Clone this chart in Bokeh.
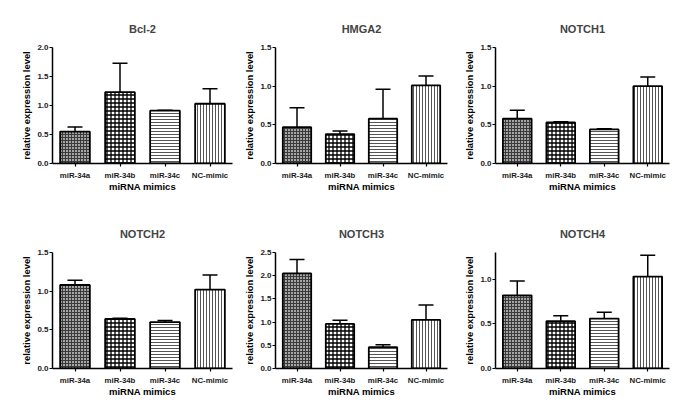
from bokeh.plotting import figure
from bokeh.layouts import column, row
from bokeh.models import (Range1d, FactorRange, FixedTicker, Whisker, TeeHead,
                          ColumnDataSource, PrintfTickFormatter)
from bokeh.embed import file_html
from bokeh.resources import INLINE

CATEGORIES = ["miR-34a", "miR-34b", "miR-34c", "NC-mimic"]
GENES = ["Bcl-2", "HMGA2", "NOTCH1", "NOTCH2", "NOTCH3", "NOTCH4"]

BCL2_MEAN = [0.55, 1.23, 0.91, 1.03]
BCL2_UPPER = [0.63, 1.73, 0.92, 1.29]
HMGA2_MEAN = [0.47, 0.38, 0.58, 1.01]
HMGA2_UPPER = [0.72, 0.42, 0.96, 1.13]
NOTCH1_MEAN = [0.58, 0.53, 0.44, 1.00]
NOTCH1_UPPER = [0.69, 0.54, 0.45, 1.12]
NOTCH2_MEAN = [1.08, 0.64, 0.60, 1.02]
NOTCH2_UPPER = [1.14, 0.65, 0.62, 1.21]
NOTCH3_MEAN = [2.05, 0.96, 0.46, 1.05]
NOTCH3_UPPER = [2.35, 1.04, 0.51, 1.37]
NOTCH4_MEAN = [0.82, 0.53, 0.56, 1.03]
NOTCH4_UPPER = [0.98, 0.59, 0.63, 1.27]

MEANS = [BCL2_MEAN, HMGA2_MEAN, NOTCH1_MEAN, NOTCH2_MEAN, NOTCH3_MEAN, NOTCH4_MEAN]
UPPERS = [BCL2_UPPER, HMGA2_UPPER, NOTCH1_UPPER, NOTCH2_UPPER, NOTCH3_UPPER, NOTCH4_UPPER]
Y_MAX = [2.0, 1.5, 1.5, 1.5, 2.5, 1.3]
Y_TICKS = [[0, 0.5, 1.0, 1.5, 2.0], [0, 0.5, 1.0, 1.5], [0, 0.5, 1.0, 1.5],
           [0, 0.5, 1.0, 1.5], [0, 0.5, 1.0, 1.5, 2.0, 2.5], [0, 0.5, 1.0]]
Y_LABEL = "relative expression level"
X_LABEL = "miRNA mimics"

FONT = "Liberation Sans"

STYLES = [
    dict(fill_color="#a6a6a6", hatch_pattern="cross", hatch_color="#3a3a3a", hatch_scale=3, hatch_weight=1),
    dict(fill_color="white", hatch_pattern="cross", hatch_color="black", hatch_scale=4, hatch_weight=1.3),
    dict(fill_color="white", hatch_pattern="horizontal_line", hatch_color="#555555", hatch_scale=3, hatch_weight=1),
    dict(fill_color="white", hatch_pattern="vertical_line", hatch_color="#555555", hatch_scale=3, hatch_weight=1),
]

COL_W = [234, 215, 222]
COL_LEFT = [52, 41, 46]
ROW_H = [208, 191]
ROW_TOP = [47, 44]
FRAME_H = [116, 117]


def make_panel(i):
    r, c = divmod(i, 3)
    p = figure(x_range=FactorRange(*CATEGORIES), y_range=Range1d(0, Y_MAX[i]),
               width=COL_W[c], height=ROW_H[r],
               min_border_left=COL_LEFT[c], min_border_right=2,
               min_border_top=ROW_TOP[r], min_border_bottom=ROW_H[r] - ROW_TOP[r] - FRAME_H[r],
               toolbar_location=None, output_backend="svg", title=GENES[i])
    for k, cat in enumerate(CATEGORIES):
        p.vbar(x=[cat], top=[MEANS[i][k]], width=0.66, line_color="black", line_width=1.8,
               **STYLES[k])
    src = ColumnDataSource(dict(x=CATEGORIES, lower=MEANS[i], upper=UPPERS[i]))
    w = Whisker(base="x", lower="lower", upper="upper", source=src, dimension="height",
                line_width=1.5, line_color="black",
                upper_head=TeeHead(size=15, line_width=1.5, line_color="black"), lower_head=None)
    p.add_layout(w)

    p.grid.visible = False
    p.outline_line_color = None
    p.title.text_font = FONT
    p.title.text_font_size = "11px"
    p.title.text_font_style = "bold"
    p.title.align = "center"
    p.title.standoff = 25

    for ax in (p.xaxis[0], p.yaxis[0]):
        ax.axis_line_width = 1.5
        ax.axis_line_color = "black"
        ax.major_tick_line_width = 1.2
        ax.major_tick_in = 0
        ax.major_tick_out = 3
        ax.minor_tick_in = 0
        ax.minor_tick_out = 0
        ax.major_label_text_font = FONT
        ax.major_label_text_font_style = "bold"
        ax.major_label_text_color = "#1a1a1a"
        ax.axis_label_text_font = FONT
        ax.axis_label_text_font_style = "bold"
        ax.axis_label_text_color = "black"
    p.yaxis.ticker = FixedTicker(ticks=Y_TICKS[i])
    p.yaxis.formatter = PrintfTickFormatter(format="%.1f")
    p.yaxis.major_label_text_font_size = "8px"
    p.yaxis.major_label_standoff = 1
    p.yaxis.axis_label = Y_LABEL
    p.yaxis.axis_label_text_font_size = "9.4px"
    p.yaxis.axis_label_standoff = 2
    p.xaxis.major_label_text_font_size = "7.8px"
    p.xaxis.major_label_standoff = 4
    p.xaxis.axis_label = X_LABEL
    p.xaxis.axis_label_text_font_size = "9.5px"
    p.xaxis.axis_label_standoff = -2
    return p


panels = [make_panel(i) for i in range(6)]
layout = column(row(*panels[:3]), row(*panels[3:]))

open("out.html", "w").write(file_html(layout, INLINE))
